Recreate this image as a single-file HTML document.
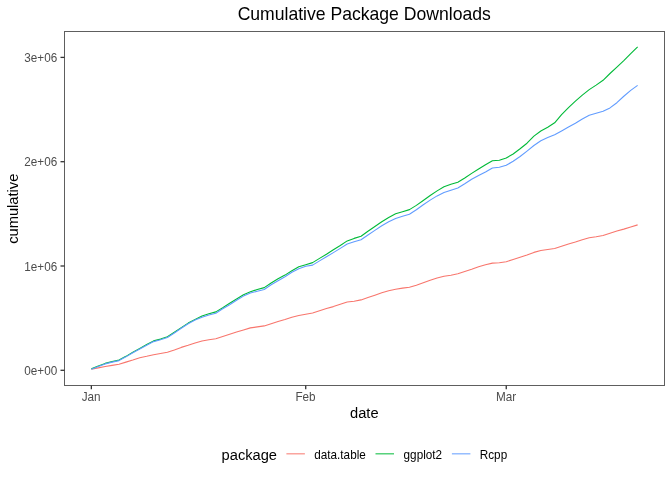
<!DOCTYPE html>
<html><head><meta charset="utf-8"><title>Cumulative Package Downloads</title>
<style>html,body{margin:0;padding:0;background:#fff;width:672px;height:480px;overflow:hidden}svg{display:block}</style>
</head><body>
<svg width="672" height="480" viewBox="0 0 672 480" font-family="'Liberation Sans', Arial, Helvetica, sans-serif">
<rect x="0" y="0" width="672" height="480" fill="#fff"/>
<polyline points="91.35,369.20 98.27,367.90 105.18,366.50 112.09,365.40 119.01,364.20 125.92,362.10 132.84,360.00 139.75,357.70 146.67,356.30 153.58,354.70 160.50,353.50 167.41,352.20 174.33,349.90 181.25,347.40 188.16,345.30 195.07,343.00 201.99,341.00 208.91,339.80 215.82,338.75 222.73,336.50 229.65,334.30 236.56,332.10 243.48,330.00 250.39,327.90 257.31,326.90 264.23,325.90 271.14,323.70 278.06,321.50 284.97,319.50 291.88,317.30 298.80,315.50 305.72,314.25 312.63,313.00 319.54,310.75 326.46,308.50 333.38,306.60 340.29,304.30 347.20,302.00 354.12,301.20 361.03,299.90 367.95,297.50 374.87,295.20 381.78,292.80 388.70,290.80 395.61,289.20 402.52,288.10 409.44,287.25 416.36,285.20 423.27,282.70 430.18,280.20 437.10,278.00 444.01,276.20 450.93,275.20 457.85,273.80 464.76,271.60 471.67,269.30 478.59,266.70 485.50,264.75 492.42,263.10 499.34,262.80 506.25,261.70 513.16,259.50 520.08,257.25 527.00,255.00 533.91,252.40 540.83,250.50 547.74,249.50 554.65,248.50 561.57,246.30 568.49,244.10 575.40,242.00 582.31,239.70 589.23,237.70 596.14,236.80 603.06,235.50 609.98,233.25 616.89,231.00 623.81,229.10 630.72,227.00 637.63,224.90" fill="none" stroke="#F8766D" stroke-width="1.1" stroke-linejoin="round"/>
<polyline points="91.35,368.85 98.27,365.90 105.18,363.40 112.09,361.60 119.01,360.10 125.92,356.35 132.84,352.20 139.75,348.40 146.67,344.50 153.58,340.90 160.50,339.10 167.41,336.80 174.33,332.30 181.25,327.60 188.16,323.10 195.07,319.40 201.99,316.10 208.91,313.80 215.82,311.90 222.73,307.75 229.65,303.30 236.56,299.00 243.48,294.70 250.39,291.70 257.31,289.50 264.23,287.60 271.14,283.00 278.06,278.80 284.97,275.10 291.88,270.70 298.80,266.75 305.72,264.70 312.63,262.60 319.54,258.40 326.46,254.25 333.38,249.80 340.29,245.50 347.20,240.90 354.12,238.40 361.03,236.30 367.95,231.25 374.87,226.50 381.78,221.80 388.70,217.50 395.61,213.75 402.52,211.70 409.44,209.60 416.36,205.40 423.27,200.50 430.18,195.50 437.10,190.90 444.01,186.75 450.93,184.25 457.85,182.20 464.76,178.00 471.67,173.40 478.59,169.00 485.50,164.80 492.42,160.80 499.34,160.25 506.25,158.00 513.16,154.00 520.08,148.80 527.00,143.20 533.91,136.10 540.83,131.00 547.74,127.30 554.65,122.80 561.57,114.70 568.49,107.60 575.40,101.20 582.31,95.10 589.23,89.60 596.14,85.15 603.06,80.30 609.98,73.50 616.89,67.10 623.81,60.60 630.72,53.60 637.63,46.80" fill="none" stroke="#00BA38" stroke-width="1.1" stroke-linejoin="round"/>
<polyline points="91.35,369.35 98.27,366.40 105.18,363.90 112.09,362.10 119.01,360.60 125.92,356.85 132.84,352.70 139.75,348.90 146.67,345.20 153.58,341.60 160.50,339.80 167.41,337.50 174.33,333.00 181.25,328.30 188.16,323.80 195.07,320.10 201.99,317.30 208.91,315.00 215.82,313.20 222.73,308.80 229.65,304.70 236.56,300.25 243.48,296.10 250.39,293.00 257.31,291.20 264.23,289.50 271.14,284.80 278.06,280.70 284.97,276.75 291.88,272.30 298.80,268.70 305.72,266.30 312.63,265.10 319.54,260.90 326.46,256.75 333.38,252.60 340.29,248.40 347.20,244.00 354.12,241.75 361.03,239.70 367.95,235.00 374.87,230.40 381.78,225.80 388.70,221.80 395.61,218.50 402.52,216.25 409.44,214.20 416.36,209.80 423.27,204.70 430.18,200.10 437.10,195.90 444.01,192.60 450.93,190.30 457.85,188.00 464.76,183.80 471.67,179.25 478.59,175.50 485.50,171.90 492.42,168.00 499.34,167.20 506.25,165.25 513.16,161.30 520.08,156.50 527.00,151.10 533.91,145.50 540.83,140.70 547.74,137.60 554.65,134.70 561.57,130.90 568.49,127.00 575.40,123.20 582.31,119.00 589.23,115.20 596.14,113.20 603.06,111.25 609.98,107.90 616.89,102.70 623.81,96.25 630.72,90.40 637.63,85.40" fill="none" stroke="#619CFF" stroke-width="1.1" stroke-linejoin="round"/>
<rect x="64.5" y="31.5" width="600" height="354" fill="none" stroke="#5E5E5E" stroke-width="1"/>
<line x1="60.50" y1="57.40" x2="64.5" y2="57.40" stroke="#333333" stroke-width="1.3"/>
<text transform="translate(57.20,62.10) scale(1,1.02)" text-anchor="end" fill="#4D4D4D" font-size="11.73">3e+06</text>
<line x1="60.50" y1="161.70" x2="64.5" y2="161.70" stroke="#333333" stroke-width="1.3"/>
<text transform="translate(57.20,166.00) scale(1,1.02)" text-anchor="end" fill="#4D4D4D" font-size="11.73">2e+06</text>
<line x1="60.50" y1="266.00" x2="64.5" y2="266.00" stroke="#333333" stroke-width="1.3"/>
<text transform="translate(57.20,271.00) scale(1,1.02)" text-anchor="end" fill="#4D4D4D" font-size="11.73">1e+06</text>
<line x1="60.50" y1="370.30" x2="64.5" y2="370.30" stroke="#333333" stroke-width="1.3"/>
<text transform="translate(57.20,374.90) scale(1,1.02)" text-anchor="end" fill="#4D4D4D" font-size="11.73">0e+00</text>
<line x1="91.35" y1="385.5" x2="91.35" y2="389.17" stroke="#333333" stroke-width="1.3"/>
<text transform="translate(91.15,400.90) scale(1,1.02)" text-anchor="middle" fill="#4D4D4D" font-size="11.73">Jan</text>
<line x1="305.72" y1="385.5" x2="305.72" y2="389.17" stroke="#333333" stroke-width="1.3"/>
<text transform="translate(305.52,400.90) scale(1,1.02)" text-anchor="middle" fill="#4D4D4D" font-size="11.73">Feb</text>
<line x1="506.25" y1="385.5" x2="506.25" y2="389.17" stroke="#333333" stroke-width="1.3"/>
<text transform="translate(506.05,400.90) scale(1,1.02)" text-anchor="middle" fill="#4D4D4D" font-size="11.73">Mar</text>
<text transform="translate(364.20,20.00) scale(1,1.04)" text-anchor="middle" fill="#000" font-size="17.6">Cumulative Package Downloads</text>
<text transform="translate(364.30,418.00) scale(1,1.04)" text-anchor="middle" fill="#000" font-size="14.67">date</text>
<text transform="translate(18.20,208.70) rotate(-90) scale(1,1.04)" text-anchor="middle" fill="#000" font-size="14.67">cumulative</text>
<text transform="translate(221.60,459.60) scale(1,1.04)" fill="#000" font-size="14.67">package</text>
<line x1="286.4" y1="453.85" x2="304.90" y2="453.85" stroke="#F8766D" stroke-width="1"/>
<text transform="translate(314.30,458.70) scale(1,1.04)" fill="#000" font-size="11.73">data.table</text>
<line x1="375.5" y1="453.85" x2="394.00" y2="453.85" stroke="#00BA38" stroke-width="1"/>
<text transform="translate(403.60,458.70) scale(1,1.04)" fill="#000" font-size="11.73">ggplot2</text>
<line x1="451.9" y1="453.85" x2="470.40" y2="453.85" stroke="#619CFF" stroke-width="1"/>
<text transform="translate(479.80,458.70) scale(1,1.04)" fill="#000" font-size="11.73">Rcpp</text>
</svg>
</body></html>
